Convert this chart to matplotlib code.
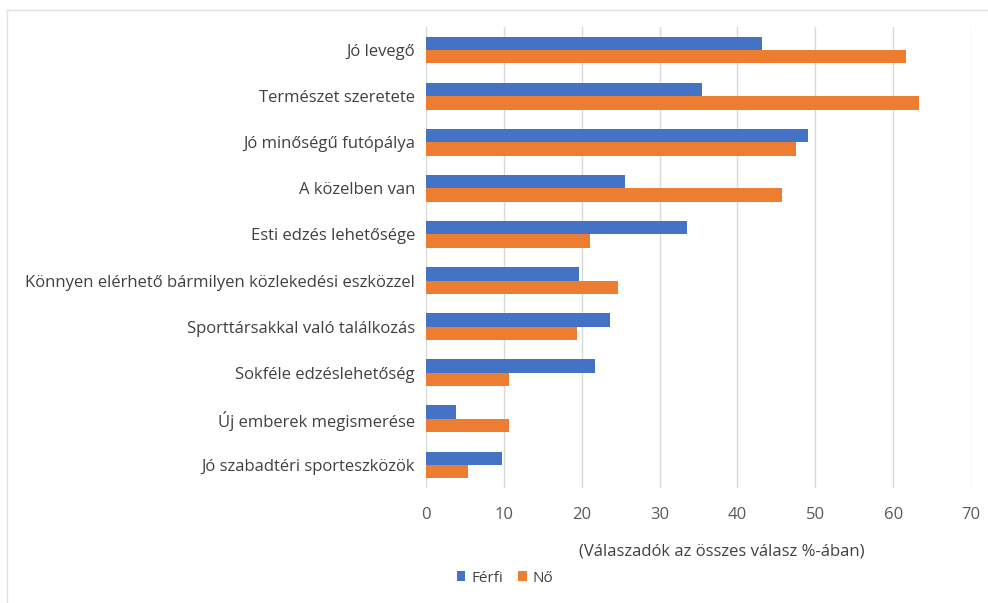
import matplotlib.pyplot as plt
import numpy as np
from matplotlib.lines import Line2D

plt.rcParams['font.family'] = ['Open Sans', 'DejaVu Sans']

categories = ["Jó levegő", "Természet szeretete", "Jó minőségű futópálya", "A közelben van",
              "Esti edzés lehetősége", "Könnyen elérhető bármilyen közlekedési eszközzel",
              "Sporttársakkal való találkozás", "Sokféle edzéslehetőség",
              "Új emberek megismerése", "Jó szabadtéri sporteszközök"]
ferfi = [43.2, 35.4, 49.1, 25.6, 33.5, 19.6, 23.6, 21.7, 3.9, 9.7]
no = [61.6, 63.3, 47.5, 45.7, 21.1, 24.7, 19.4, 10.7, 10.7, 5.4]
xticks = [0, 10, 20, 30, 40, 50, 60, 70]

fig = plt.figure(figsize=(9.88, 6.03), dpi=100)
ax = fig.add_axes([426 / 988, 1 - 488 / 603, (971 - 426) / 988, (488 - 27) / 603])

y = np.arange(len(categories))
h = 0.29
ax.barh(y - h / 2, ferfi, height=h, color="#4472C4", label="Férfi", zorder=3)
ax.barh(y + h / 2, no, height=h, color="#ED7D31", label="Nő", zorder=3)

ax.set_ylim(len(categories) - 0.5, -0.5)
ax.set_xlim(0, 70)
ax.set_yticks(y)
ax.set_yticklabels(categories, fontsize=12, color="#404040")
ax.set_xticks(xticks)
ax.set_xticklabels([str(t) for t in xticks], fontsize=12, color="#595959")
ax.tick_params(length=0, pad=14, axis="x")
ax.tick_params(length=0, pad=8, axis="y")
ax.grid(axis="x", color="#d9d9d9", linewidth=1, zorder=0)
for s in ax.spines.values():
    s.set_visible(False)

ax.set_xlabel("(Válaszadók az összes válasz %-ában)", fontsize=12, color="#404040")
ax.xaxis.set_label_coords((722 - 426) / 545, -(551 - 488) / 461, transform=ax.transAxes)
ax.xaxis.label.set_va("center")

fig.legend(loc="center", bbox_to_anchor=(505 / 988, 1 - 578 / 603), ncol=2, frameon=False,
           fontsize=11, handlelength=0.55, handleheight=0.55, handletextpad=0.4, columnspacing=1.0,
           labelcolor="#404040")

# faint frame on the left and top edges
fig.add_artist(Line2D([7 / 988, 7 / 988], [0, 1 - 10 / 603], transform=fig.transFigure,
                      color="#e0e0e0", linewidth=1))
fig.add_artist(Line2D([7 / 988, 1], [1 - 10 / 603, 1 - 10 / 603], transform=fig.transFigure,
                      color="#e0e0e0", linewidth=1))

fig.savefig("out.png", dpi=100)
